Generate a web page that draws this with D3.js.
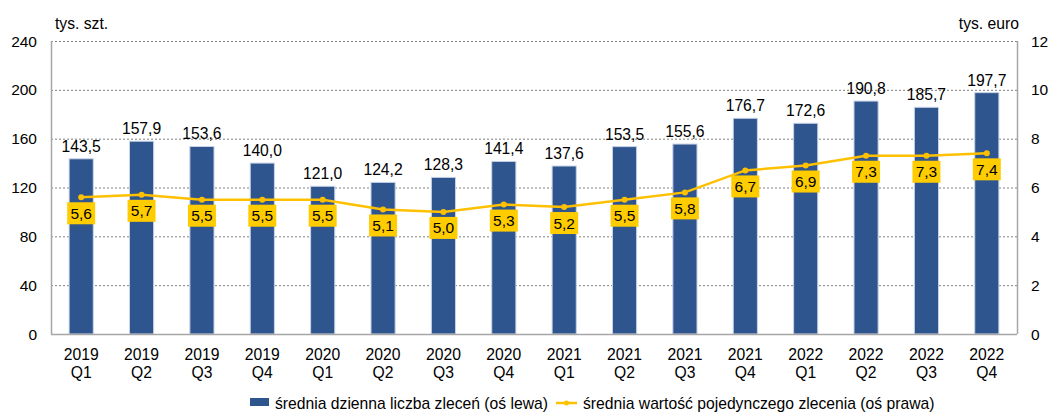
<!DOCTYPE html>
<html>
<head>
<meta charset="utf-8">
<script src="https://cdn.jsdelivr.net/npm/d3@7"></script>
<style>
  body { margin: 0; background: #fff; }
  text { font-family: "Liberation Sans", Arial, sans-serif; fill: #000; }
</style>
</head>
<body>
<script>
var years = ["2019","2019","2019","2019","2020","2020","2020","2020","2021","2021","2021","2021","2022","2022","2022","2022"];
var quarters = ["Q1","Q2","Q3","Q4","Q1","Q2","Q3","Q4","Q1","Q2","Q3","Q4","Q1","Q2","Q3","Q4"];
var orders = [143.5,157.9,153.6,140.0,121.0,124.2,128.3,141.4,137.6,153.5,155.6,176.7,172.6,190.8,185.7,197.7];
var avgValue = [5.6,5.7,5.5,5.5,5.5,5.1,5.0,5.3,5.2,5.5,5.8,6.7,6.9,7.3,7.3,7.4];
var leftTicks = [0,40,80,120,160,200,240];
var rightTicks = [0,2,4,6,8,10,12];
var legendLabels = ["średnia dzienna liczba zleceń (oś lewa)", "średnia wartość pojedynczego zlecenia (oś prawa)"];

var width = 1050, height = 412;
var m_left = 51, m_right = 1017, m_top = 41, m_bottom = 334;

var bar_col = "#2f558f",
    line_col = "#ffc000",
    box_col = "#ffcc00";

var fs = "15.7px";

var fmt = function(v, d) { return v.toFixed(d).replace(".", ","); };

var idx = d3.range(orders.length);

var x = d3.scaleBand().domain(idx).range([m_left, m_right]).paddingInner(0.6).paddingOuter(0.3);
var yL = d3.scaleLinear().domain([0, 240]).range([m_bottom, m_top]);
var yR = d3.scaleLinear().domain([0, 12]).range([m_bottom, m_top]);
var cx = function(i) { return x(i) + x.bandwidth() / 2; };

var svg = d3.select("body").append("svg")
    .attr("width", width)
    .attr("height", height);

// grid lines
svg.append("g").selectAll("line")
    .data(leftTicks.filter(function(d) { return d > 0; }))
    .join("line")
    .attr("x1", m_left).attr("x2", m_right)
    .attr("y1", function(d) { return yL(d) + 0.5; })
    .attr("y2", function(d) { return yL(d) + 0.5; })
    .style("stroke", "#7f7f7f")
    .style("stroke-width", 1)
    .style("stroke-dasharray", "2,2");

// bars
svg.append("g").selectAll("rect")
    .data(idx)
    .join("rect")
    .attr("x", function(i) { return x(i); })
    .attr("y", function(i) { return yL(orders[i]); })
    .attr("width", x.bandwidth())
    .attr("height", function(i) { return yL(0) - yL(orders[i]); })
    .style("fill", bar_col)
    .style("stroke", "#c9d3e6")
    .style("stroke-width", 1);

// bar labels
svg.append("g").selectAll("text")
    .data(idx)
    .join("text")
    .attr("x", cx)
    .attr("y", function(i) { return yL(orders[i]) - 7; })
    .attr("text-anchor", "middle")
    .style("font-size", fs)
    .text(function(i) { return fmt(orders[i], 1); });

// axes lines
svg.append("line").attr("x1", m_left + 0.5).attr("x2", m_left + 0.5).attr("y1", m_top).attr("y2", m_bottom)
    .style("stroke", "#a6a6a6").style("stroke-width", 1.5);
svg.append("line").attr("x1", m_right + 0.5).attr("x2", m_right + 0.5).attr("y1", m_top).attr("y2", m_bottom)
    .style("stroke", "#a6a6a6").style("stroke-width", 1.5);
svg.append("line").attr("x1", m_left).attr("x2", m_right).attr("y1", m_bottom + 0.5).attr("y2", m_bottom + 0.5)
    .style("stroke", "#a6a6a6").style("stroke-width", 1.5);

// left ticks
svg.append("g").selectAll("text")
    .data(leftTicks)
    .join("text")
    .attr("x", 37)
    .attr("y", function(d) { return yL(d) + 5.5; })
    .attr("text-anchor", "end")
    .style("font-size", "15.5px")
    .text(function(d) { return d; });

// right ticks
svg.append("g").selectAll("text")
    .data(rightTicks)
    .join("text")
    .attr("x", 1031)
    .attr("y", function(d) { return yR(d) + 5.5; })
    .attr("text-anchor", "start")
    .style("font-size", "15.5px")
    .text(function(d) { return d; });

// axis titles
svg.append("text").attr("x", 55).attr("y", 29).style("font-size", fs).text("tys. szt.");
svg.append("text").attr("x", 1019).attr("y", 29).attr("text-anchor", "end").style("font-size", fs).text("tys. euro");

// category labels
var cat = svg.append("g").selectAll("text")
    .data(idx)
    .join("text")
    .attr("x", cx)
    .attr("text-anchor", "middle")
    .style("font-size", fs);
cat.append("tspan")
    .attr("x", cx)
    .attr("y", 360)
    .text(function(i) { return years[i]; });
cat.append("tspan")
    .attr("x", cx)
    .attr("y", 378)
    .text(function(i) { return quarters[i]; });

// line
var line = d3.line()
    .x(cx)
    .y(function(i) { return yR(avgValue[i]); });

svg.append("path")
    .datum(idx)
    .attr("d", line)
    .style("fill", "none")
    .style("stroke", line_col)
    .style("stroke-width", 2.5);

svg.append("g").selectAll("circle")
    .data(idx)
    .join("circle")
    .attr("cx", cx)
    .attr("cy", function(i) { return yR(avgValue[i]); })
    .attr("r", 3)
    .style("fill", line_col);

// line labels
var lab = svg.append("g").selectAll("g")
    .data(idx)
    .join("g")
    .attr("transform", function(i) {
        return "translate(" + cx(i) + "," + (yR(avgValue[i]) + 16) + ")";
    });
lab.append("rect")
    .attr("x", -14).attr("y", -11)
    .attr("width", 28).attr("height", 22)
    .style("fill", box_col);
lab.append("text")
    .attr("y", 5.5)
    .attr("text-anchor", "middle")
    .style("font-size", "15.5px")
    .text(function(i) { return fmt(avgValue[i], 1); });

// legend
var lg = svg.append("g");
lg.append("rect").attr("x", 250).attr("y", 398).attr("width", 19).attr("height", 8).style("fill", bar_col);
lg.append("text").attr("x", 275).attr("y", 409).style("font-size", fs).text(legendLabels[0]);
lg.append("line").attr("x1", 556).attr("x2", 577).attr("y1", 403).attr("y2", 403)
    .style("stroke", line_col).style("stroke-width", 2.5);
lg.append("circle").attr("cx", 566.5).attr("cy", 403).attr("r", 2.5).style("fill", line_col);
lg.append("text").attr("x", 583).attr("y", 409).style("font-size", fs).text(legendLabels[1]);
</script>
</body>
</html>
